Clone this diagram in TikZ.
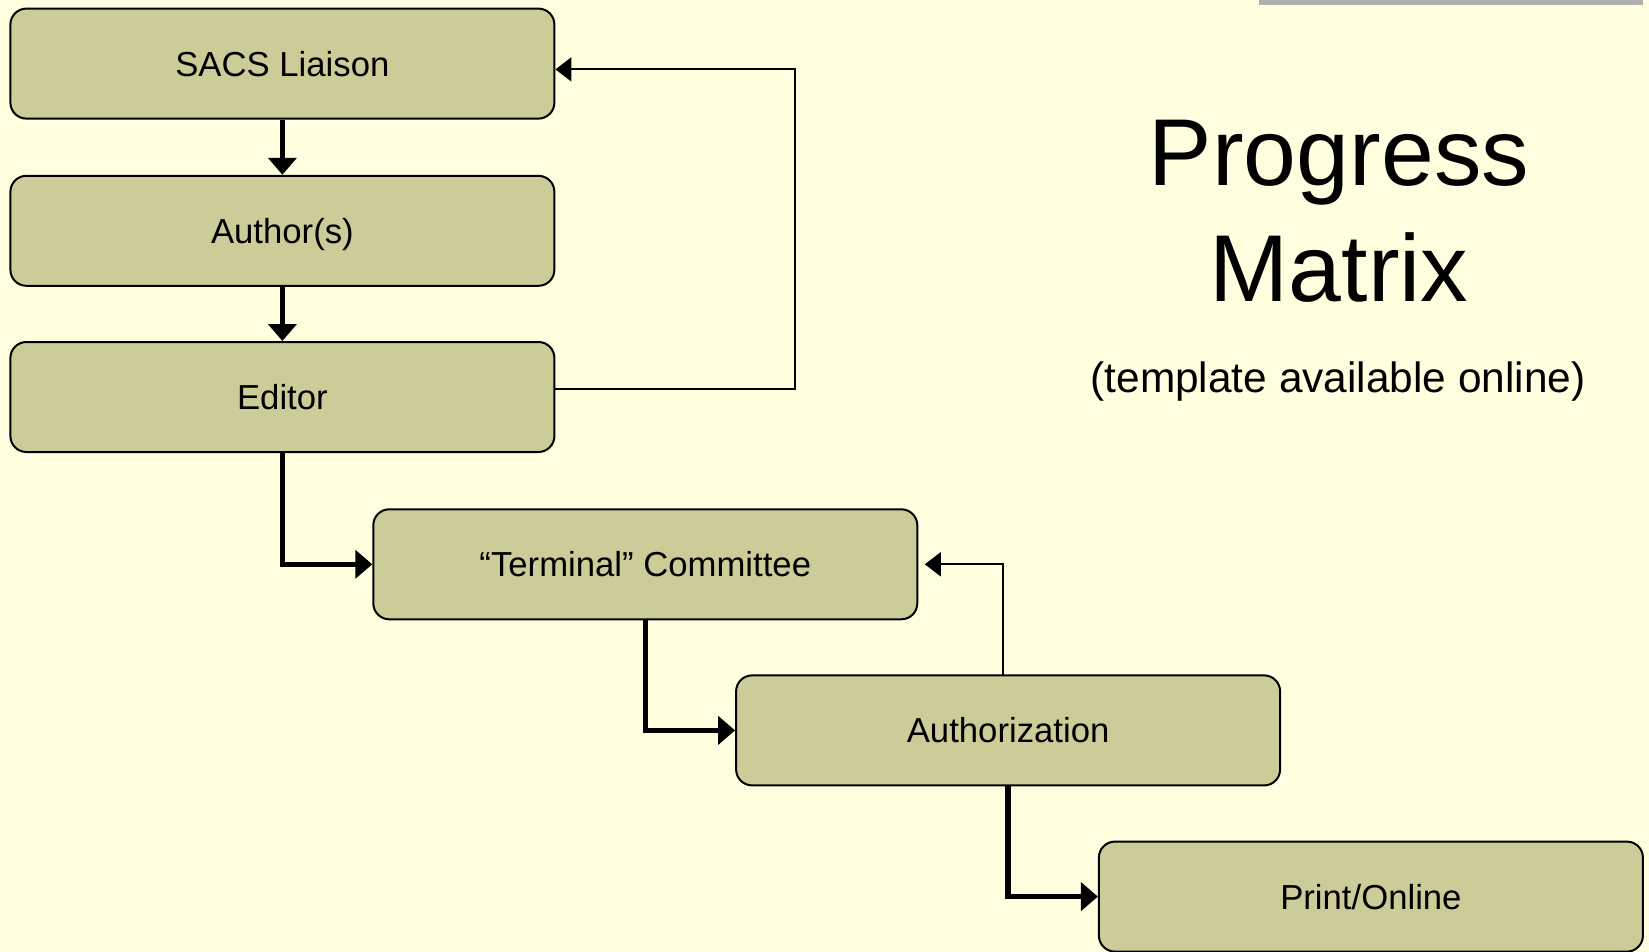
\documentclass[tikz,border=0pt]{standalone}
\usepackage{fontspec}
\setmainfont{Liberation Sans}
\usetikzlibrary{arrows.meta}
\definecolor{bg}{HTML}{FFFFE0}
\definecolor{boxfill}{HTML}{CCCC99}
\definecolor{bar}{HTML}{B0B0B0}
\begin{document}
\begin{tikzpicture}[x=1pt,y=-1pt,
  stagebox/.style={draw=black, line width=2pt, fill=boxfill, rounded corners=16pt,
    minimum width=544pt, minimum height=110pt, inner sep=0pt,
    text height=25pt, text depth=0pt,
    font=\fontsize{34.7}{40}\selectfont},
  flow/.style={line width=5.3pt, -{Triangle[length=17pt,width=28pt]}},
  back/.style={line width=2pt, -{Triangle[length=16pt,width=24pt]}}]
\fill[bg] (0,0) rectangle (1649,952);
\useasboundingbox (0,0) rectangle (1649,952);
\fill[bar] (1259,0) rectangle (1643,5);
\node[stagebox] (sacs) at (282.4,63.6) {SACS Liaison};
\node[stagebox] (auth) at (282.4,230.8) {Author(s)};
\node[stagebox] (edit) at (282.4,397) {Editor};
\node[stagebox] (term) at (645.3,564.3) {“Terminal” Committee};
\node[stagebox] (autz) at (1008.1,730.4) {Authorization};
\node[stagebox] (prnt) at (1370.9,896.6) {Print/Online};
\node[align=center, font=\fontsize{95}{116}\selectfont] (title) at (1339,211) {Progress\\Matrix};
\node[font=\fontsize{42.4}{50}\selectfont] (sub) at (1338,381.6) {(template available online)};
\draw[flow] (sacs.south) -- (auth.north);
\draw[flow] (auth.south) -- (edit.north);
\draw[flow] (edit.south) |- (term.west);
\draw[flow] (term.south) |- (autz.west);
\draw[flow] (autz.south) |- (prnt.west);
\coordinate (e1) at ([yshift=8.3pt]edit.east);
\coordinate (s1) at ([yshift=-5.8pt]sacs.east);
\coordinate (c1) at (795,388.7);
\draw[back] (e1) -- (c1) |- (s1);
\coordinate (a1) at (1003.3,675.4);
\coordinate (t1) at ([xshift=6.5pt]term.east);
\draw[back] (a1) |- (t1);
\end{tikzpicture}
\end{document}
